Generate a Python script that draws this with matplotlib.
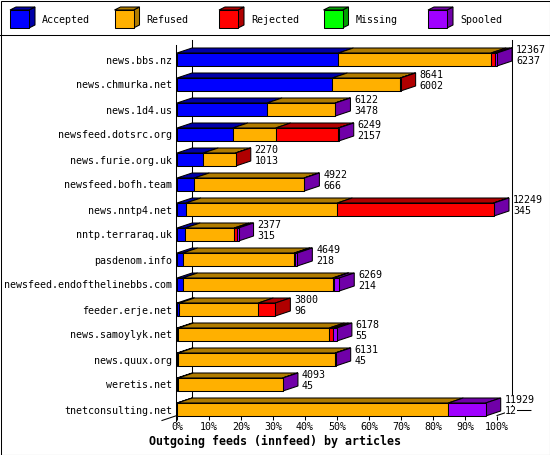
import matplotlib
matplotlib.use('Agg')
import matplotlib.pyplot as plt
from matplotlib.patches import Polygon, Rectangle
from matplotlib.lines import Line2D

# innfeed outgoing feeds, article counts per peer
hosts = ['news.bbs.nz', 'news.chmurka.net', 'news.1d4.us', 'newsfeed.dotsrc.org',
         'news.furie.org.uk', 'newsfeed.bofh.team', 'news.nntp4.net', 'nntp.terraraq.uk',
         'pasdenom.info', 'newsfeed.endofthelinebbs.com', 'feeder.erje.net',
         'news.samoylyk.net', 'news.quux.org', 'weretis.net', 'tnetconsulting.net']
offered = [12367, 8641, 6122, 6249, 2270, 4922, 12249, 2377, 4649, 6269, 3800, 6178, 6131, 4093, 11929]
accepted = [6237, 6002, 3478, 2157, 1013, 666, 345, 315, 218, 214, 96, 55, 45, 45, 12]
refused = [5898, 2629, 2634, 1656, 1254, 4240, 5850, 1895, 4316, 5802, 3045, 5830, 6066, 4038, 10471]
rejected = [155, 10, 0, 2420, 3, 0, 6040, 90, 40, 40, 659, 155, 0, 0, 0]
missing = [0, 0, 0, 0, 0, 0, 0, 0, 0, 0, 0, 0, 0, 0, 0]
spooled = [77, 0, 10, 16, 0, 16, 14, 77, 75, 213, 0, 138, 20, 10, 1446]

series_names = ['Accepted', 'Refused', 'Rejected', 'Missing', 'Spooled']
series = [accepted, refused, rejected, missing, spooled]
front_colors = ['#0000ff', '#ffb000', '#ff0000', '#00ff00', '#a000ff']
dark_colors = ['#0000a8', '#b07c00', '#b00000', '#00a000', '#7000a8']

W, H = 550, 455
MONO = 'DejaVu Sans Mono'
FS = 7.2
LW = 0.75

fig = plt.figure(figsize=(W / 100, H / 100), dpi=100)


def fx(px):
    return px / W


def fy(py):
    return 1 - py / H


# plot area: 0% at x=177, 100% at x=497, top at y=40, bottom at y=416
ax = fig.add_axes([fx(177), fy(416), fx(320), (416 - 40) / H])
ax.set_xlim(0, 100)
ax.set_ylim(14.26, -0.78)
for s in ax.spines.values():
    s.set_visible(False)

dx = 4.7    # depth in x (percent)
dy = 0.2    # depth in y (bar units)
h = 0.52    # bar height
scale = 100.0 / max(offered)
floor = 14.24

# walls and floor edges
ax.add_line(Line2D([-0.31, -0.31], [-0.58, 14.46], color='black', lw=LW, clip_on=False, zorder=1))
ax.add_line(Line2D([dx, dx], [-0.78, floor - dy], color='black', lw=LW, clip_on=False, zorder=1))
ax.add_line(Line2D([100 + dx, 100 + dx], [-0.78, floor - dy], color='black', lw=LW, clip_on=False, zorder=1))
ax.add_line(Line2D([-dx, 0], [floor + dy, floor], color='black', lw=LW, clip_on=False, zorder=1))
ax.add_line(Line2D([100, 100 + dx, 110.6], [floor, floor - dy, floor - dy],
                   color='black', lw=LW, clip_on=False, zorder=1))

for i in range(len(hosts)):
    top, bot = i - h / 2, i + h / 2
    x0 = 0.0
    last = None
    for k, vals in enumerate(series):
        v = vals[i] * scale
        if v <= 0:
            continue
        x1 = x0 + v
        ax.add_patch(Polygon([(x0, top), (x1, top), (x1 + dx, top - dy), (x0 + dx, top - dy)],
                             closed=True, fc=dark_colors[k], ec='black', lw=LW, zorder=3,
                             clip_on=False))
        ax.add_patch(Rectangle((x0, top), v, h, fc=front_colors[k], ec='black', lw=LW, zorder=4,
                               clip_on=False))
        x0 = x1
        last = k
    ax.add_patch(Polygon([(x0, top), (x0 + dx, top - dy), (x0 + dx, bot - dy), (x0, bot)],
                         closed=True, fc=dark_colors[last], ec='black', lw=LW, zorder=3,
                         clip_on=False))
    # value labels: offered / accepted
    for txt, yy in [(str(offered[i]), i - 0.38), (str(accepted[i]), i + 0.06)]:
        ax.annotate(txt, xy=(x0 + dx, yy), xytext=(2.8, 0), textcoords='offset points',
                    ha='left', va='center', fontsize=FS, family=MONO, zorder=6,
                    annotation_clip=False,
                    bbox=dict(boxstyle='square,pad=0', fc='white', ec='none'))

ax.set_xticks(range(0, 101, 10))
ax.set_xticklabels([f'{t}%' for t in range(0, 101, 10)], family=MONO, fontsize=FS)
ax.set_yticks(range(len(hosts)))
ax.set_yticklabels(hosts, family=MONO, fontsize=FS)
ax.tick_params(axis='x', direction='out', length=2.9, width=LW, pad=1.5)
ax.tick_params(axis='y', length=0, pad=3.6)

fig.text(0.5, fy(441), 'Outgoing feeds (innfeed) by articles', ha='center', va='center',
         family=MONO, fontweight='bold', fontsize=8.4)

# legend with 3D boxes
for k, name in enumerate(series_names):
    bx = 10 + 104.5 * k
    bt, bb, bw = 10, 28, 19
    ldx, ldy = 6, 3
    side = [(bx + bw, bt), (bx + bw + ldx, bt - ldy), (bx + bw + ldx, bb - ldy), (bx + bw, bb)]
    topf = [(bx, bt), (bx + bw, bt), (bx + bw + ldx, bt - ldy), (bx + ldx, bt - ldy)]
    for poly, col in [(side, dark_colors[k]), (topf, dark_colors[k])]:
        fig.add_artist(Polygon([(fx(a), fy(b)) for a, b in poly], closed=True,
                               transform=fig.transFigure, fc=col, ec='black', lw=LW))
    fig.add_artist(Rectangle((fx(bx), fy(bb)), fx(bw), (bb - bt) / H, transform=fig.transFigure,
                             fc=front_colors[k], ec='black', lw=LW))
    fig.text(fx(bx + 32), fy(20), name, ha='left', va='center', family=MONO, fontsize=FS)

# frame and legend separator
fig.add_artist(Rectangle((fx(0.5), fy(454.5)), fx(549), 454 / H, transform=fig.transFigure,
                         fill=False, ec='black', lw=LW))
fig.add_artist(Line2D([0, 1], [fy(35), fy(35)], transform=fig.transFigure, color='black', lw=LW))

fig.savefig('out.png', dpi=100)
